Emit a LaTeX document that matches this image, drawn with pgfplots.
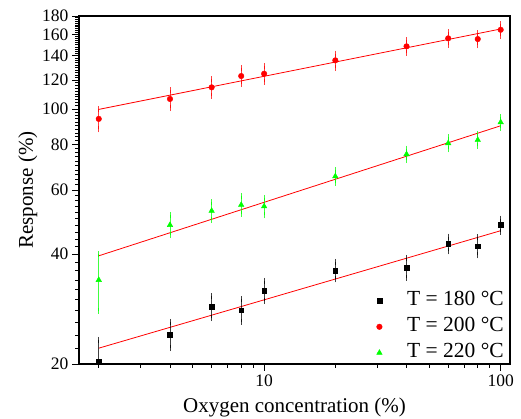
\documentclass[border=0pt]{standalone}
\usepackage{fontspec}
\setmainfont{Liberation Serif}
\usepackage{pgfplots}
\pgfplotsset{compat=1.18}
\pgfplotsset{myleg/.style={legend image code/.code={\path (0cm,0cm) (1.0cm,0cm); \draw[##1] plot coordinates {(0.1cm,0cm)};}}}
\begin{document}
\begin{tikzpicture}
\begin{axis}[
  at={(0pt,0pt)}, anchor=south west,
  scale only axis, width=431pt, height=348pt,
  xmode=log, ymode=log,
  xmin=1.65, xmax=109.5, ymin=20, ymax=180,
  xtick={10,100}, xticklabels={10,100},
  minor xtick={2,3,4,5,6,7,8,9,20,30,40,50,60,70,80,90},
  ytick={20,40,60,80,100,120,140,160,180},
  yticklabels={20,40,60,80,100,120,140,160,180},
  minor ytick={22,24,...,178},
  tick align=outside, tick pos=left,
  major tick length=7pt, minor tick length=4pt,
  every tick/.style={black, line width=0.9pt},
  axis line style={line width=1.2pt},
  /pgf/number format/assume math mode=true,
  tick label style={font=\fontsize{17.5}{20}\selectfont},
  label style={font=\fontsize{21}{24}\selectfont},
  xlabel={Oxygen concentration (\%)},
  ylabel={Response (\%)},
  xlabel style={yshift=-5pt},
  ylabel style={yshift=-2pt},
  legend style={at={(1,0)}, anchor=south east, xshift=-4pt, yshift=-1pt,
    draw=none, fill=none, inner sep=0pt,
    font=\fontsize{21.5}{24}\selectfont, row sep=2pt,
    nodes={inner sep=2pt, text height=15pt, text depth=5pt}},
  legend cell align=left,
  error bars/error bar style={line width=0.9pt, opacity=0.75},
  error bars/error mark options={line width=0.9pt, mark size=3pt, opacity=0.75},
]
\addplot[red, line width=0.8pt, forget plot] coordinates {(2,22.1) (100,46.4)};
\addplot[red, line width=0.8pt, forget plot] coordinates {(2,99.8) (100,165.8)};
\addplot[red, line width=0.8pt, forget plot] coordinates {(2,39.6) (100,90)};

\addplot[only marks, myleg, mark=square*, mark size=2.3pt, black,
  error bars/.cd, y dir=both, y explicit] table[x=x, y=y, y error=e] {
x y e
2 20.3 3
4 24.1 2
6 28.7 2
8 28.1 2
10 31.8 2
20 36.1 2
40 36.8 2.3
60 42.7 2
80 42.1 2.4
100 48.1 2
};
\addlegendentry{T = 180 °C}
\addplot[only marks, myleg, mark=*, mark size=2.8pt, red,
  error bars/.cd, y dir=both, y explicit] table[x=x, y=y, y error=e] {
x y e
2 94 6
4 106.6 6
6 114.7 6
8 123.2 6
10 125 6
20 136 6
40 148.6 6
60 156.3 6
80 155.6 6
100 165 6
};
\addlegendentry{T = 200 °C}
\addplot[only marks, myleg, mark=triangle*, mark size=3.2pt, green,
  error bars/.cd, y dir=both, y explicit] table[x=x, y=y, y error=e] {
x y e
2 34 6
4 48.1 3
6 52.6 3
8 54.6 3
10 54.1 3
20 65.4 2.7
40 75.2 2.7
60 80.6 3
80 82.3 3
100 92 3
};
\addlegendentry{T = 220 °C}
\end{axis}
\pgfresetboundingbox
\path (-79pt,-55pt) rectangle (442pt,364pt);
\end{tikzpicture}
\end{document}
